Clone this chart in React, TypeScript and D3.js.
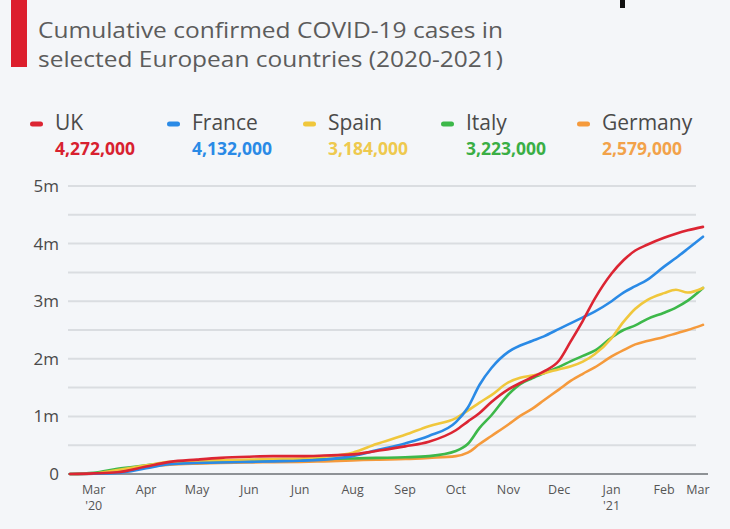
import React from 'react'
import * as d3 from 'd3'

// cumulative confirmed cases, millions
const dates = [
  '2020-02-16', '2020-03-01', '2020-03-15', '2020-04-01', '2020-04-15', '2020-05-01',
  '2020-05-15', '2020-06-01', '2020-06-15', '2020-07-01', '2020-07-15', '2020-08-01',
  '2020-08-15', '2020-09-01', '2020-09-15', '2020-10-01', '2020-10-08', '2020-10-15',
  '2020-10-22', '2020-11-01', '2020-11-08', '2020-11-15', '2020-11-22', '2020-12-01',
  '2020-12-08', '2020-12-15', '2020-12-22', '2021-01-01', '2021-01-08', '2021-01-15',
  '2021-01-22', '2021-02-01', '2021-02-08', '2021-02-15', '2021-02-24'
]

const uk = [
  0, 0.01, 0.03, 0.13, 0.21, 0.25, 0.28, 0.30, 0.31, 0.31, 0.32, 0.34,
  0.40, 0.48, 0.56, 0.76, 0.91, 1.06, 1.25, 1.47, 1.58, 1.68, 1.78, 1.97,
  2.31, 2.66, 3.04, 3.48, 3.71, 3.88, 3.98, 4.10, 4.17, 4.23, 4.29
]
const france = [
  0, 0.005, 0.02, 0.10, 0.17, 0.19, 0.20, 0.21, 0.22, 0.23, 0.25, 0.31,
  0.41, 0.53, 0.66, 0.90, 1.15, 1.55, 1.84, 2.12, 2.23, 2.31, 2.39, 2.52,
  2.62, 2.72, 2.82, 3.00, 3.15, 3.26, 3.37, 3.60, 3.75, 3.91, 4.12
]
const spain = [
  0, 0.01, 0.07, 0.15, 0.21, 0.23, 0.24, 0.25, 0.26, 0.27, 0.30, 0.37,
  0.52, 0.68, 0.83, 0.97, 1.10, 1.24, 1.37, 1.59, 1.67, 1.71, 1.75, 1.82,
  1.87, 1.95, 2.08, 2.36, 2.64, 2.87, 3.02, 3.14, 3.20, 3.15, 3.23
]
const italy = [
  0, 0.02, 0.09, 0.15, 0.20, 0.22, 0.23, 0.24, 0.245, 0.25, 0.26, 0.27,
  0.28, 0.29, 0.31, 0.40, 0.52, 0.80, 1.02, 1.38, 1.56, 1.66, 1.75, 1.86,
  1.96, 2.05, 2.14, 2.37, 2.50, 2.58, 2.69, 2.80, 2.89, 3.01, 3.23
]
const germany = [
  0, 0.005, 0.04, 0.12, 0.16, 0.18, 0.19, 0.20, 0.205, 0.21, 0.22, 0.235,
  0.25, 0.26, 0.28, 0.31, 0.37, 0.52, 0.66, 0.86, 1.01, 1.13, 1.28, 1.47,
  1.62, 1.74, 1.85, 2.04, 2.15, 2.25, 2.31, 2.38, 2.44, 2.50, 2.59
]

const countries = ['UK', 'France', 'Spain', 'Italy', 'Germany']
const totals = ['4,272,000', '4,132,000', '3,184,000', '3,223,000', '2,579,000']
const colors = ['#dc2533', '#2a8ae6', '#f0c73c', '#3db84a', '#f59a3c']
const valueColors = ['#d8212f', '#2a8ae6', '#eec94e', '#3aae45', '#f2a24a']
const seriesValues = [uk, france, spain, italy, germany]

const yTicks = [0, 1, 2, 3, 4, 5]
const yTickLabels = ['0', '1m', '2m', '3m', '4m', '5m']
const yGrid = [0.5, 1, 1.5, 2, 2.5, 3, 3.5, 4, 4.5, 5]

const xTickDates = [
  '2020-03-01', '2020-04-01', '2020-05-01', '2020-06-01', '2020-07-01', '2020-08-01',
  '2020-09-01', '2020-10-01', '2020-11-01', '2020-12-01', '2021-01-01', '2021-02-01', '2021-03-01'
]
const xTickLabels = ['Mar', 'Apr', 'May', 'Jun', 'Jun', 'Aug', 'Sep', 'Oct', 'Nov', 'Dec', 'Jan', 'Feb', 'Mar']
const xTickYears = ["'20", '', '', '', '', '', '', '', '', '', "'21", '', '']

const W = 730
const H = 529
const FONT = '"Open Sans", sans-serif'

export default function App () {
  const parse = d3.utcParse('%Y-%m-%d')
  const x = d3.scaleUtc()
    .domain([parse('2020-02-16'), parse('2021-02-24')])
    .range([70, 703])
  const y = d3.scaleLinear().domain([0, 5]).range([474, 186])

  const line = d3.line<[Date, number]>()
    .x(d => x(d[0]))
    .y(d => y(d[1]))
    .curve(d3.curveMonotoneX)

  const legendX = [30, 167, 303, 441, 577]
  // draw UK last so it sits on top
  const drawOrder = [4, 3, 2, 1, 0]

  return (
    <div style={{ position: 'absolute', left: 0, top: 0 }}>
      <svg width={W} height={H} style={{ display: 'block' }}>
        <rect width={W} height={H} fill='#f4f6f9' />
        <rect x={11} y={0} width={16} height={67} fill='#dc1e2d' />
        <rect x={620} y={0} width={5} height={8} fill='#111' />

        <g fontFamily={FONT} fill='#5c5c5c' fontSize={22.5}>
          <text x={38} y={38} textLength={465} lengthAdjust='spacingAndGlyphs'>Cumulative confirmed COVID-19 cases in</text>
          <text x={38} y={67} textLength={465} lengthAdjust='spacingAndGlyphs'>selected European countries (2020-2021)</text>
        </g>

        {countries.map((c, i) => (
          <g key={c} fontFamily={FONT}>
            <rect x={legendX[i]} y={121.5} width={13} height={5} rx={2.5} fill={colors[i]} />
            <text x={legendX[i] + 25} y={129.5} fontSize={21} fill='#4a4a4a'>{c}</text>
            <text x={legendX[i] + 25} y={154.5} fontSize={17.5} fontWeight={700} fill={valueColors[i]}>{totals[i]}</text>
          </g>
        ))}

        {yGrid.map(v => (
          <line key={v} x1={68} x2={696} y1={y(v)} y2={y(v)} stroke='#dadde1' strokeWidth={2} />
        ))}
        <line x1={68} x2={708} y1={y(0)} y2={y(0)} stroke='#8e9296' strokeWidth={2} />

        {yTicks.map((v, i) => (
          <text key={v} x={59} y={y(v)} dy='0.35em' textAnchor='end'
            fontFamily={FONT} fontSize={17} fill='#4a4a4a'>{yTickLabels[i]}</text>
        ))}

        {xTickDates.map((d, i) => {
          const px = Math.min(x(parse(d)), 698)
          return (
            <g key={d} fontFamily={FONT} fontSize={12.5} fill='#555' textAnchor='middle'>
              <text x={px} y={494}>{xTickLabels[i]}</text>
              {xTickYears[i] && <text x={px} y={510}>{xTickYears[i]}</text>}
            </g>
          )
        })}

        {drawOrder.map(i => {
          const pts = dates.map((d, j) => [parse(d), seriesValues[i][j]] as [Date, number])
          return (
            <path key={countries[i]} d={line(pts) || ''} fill='none'
              stroke={colors[i]} strokeWidth={2.6} strokeLinejoin='round' strokeLinecap='round' />
          )
        })}
      </svg>
    </div>
  )
}
